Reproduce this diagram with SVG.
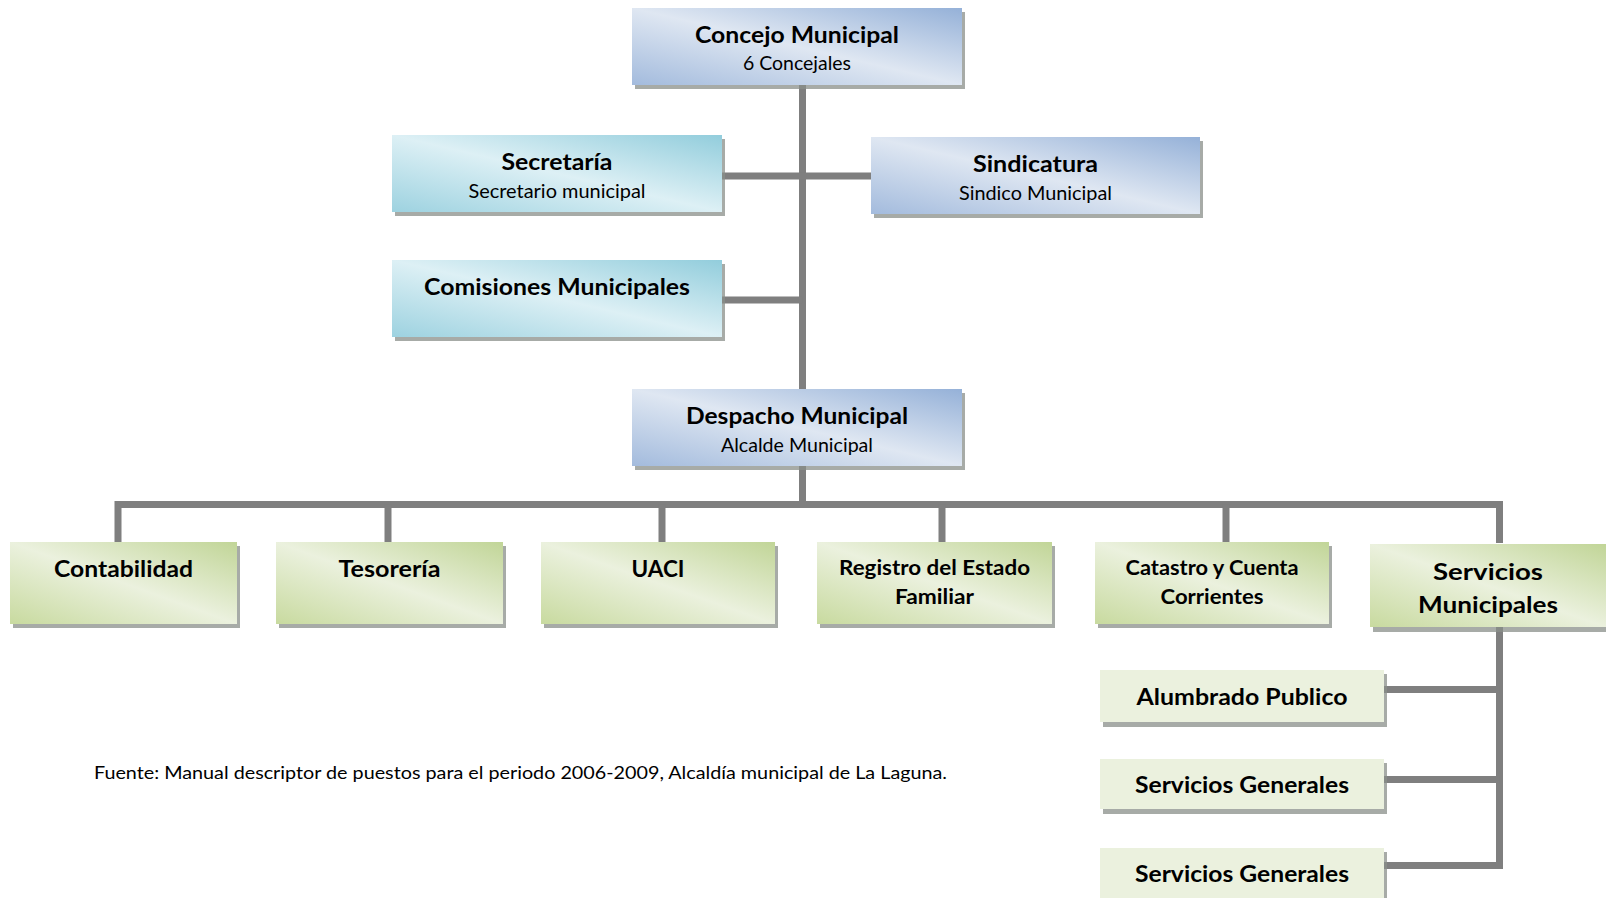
<svg xmlns="http://www.w3.org/2000/svg" width="1606" height="898" viewBox="0 0 1606 898">
<defs>
<linearGradient id="gBlue" x1="0" y1="1" x2="1" y2="0">
<stop offset="0" stop-color="#a3bbdd"/>
<stop offset="0.5" stop-color="#dfe7f2"/>
<stop offset="1" stop-color="#95b1d8"/>
</linearGradient>
<linearGradient id="gCyan" x1="0" y1="1" x2="1" y2="0">
<stop offset="0" stop-color="#9dd2e0"/>
<stop offset="0.5" stop-color="#ddf0f5"/>
<stop offset="1" stop-color="#92cddc"/>
</linearGradient>
<linearGradient id="gGreen" x1="0" y1="1" x2="1" y2="0">
<stop offset="0" stop-color="#c8da9f"/>
<stop offset="0.5" stop-color="#ebf1de"/>
<stop offset="1" stop-color="#c1d597"/>
</linearGradient>
<style>
.sh{fill:#8a8f8a;opacity:0.75}
.blue{fill:url(#gBlue)}
.cyan{fill:url(#gCyan)}
.green{fill:url(#gGreen)}
.flat{fill:#ebf1de}
.t{font-family:Lato,"Liberation Sans",sans-serif;font-weight:bold;font-size:23px;fill:#000;text-anchor:middle}
.t2{font-family:Lato,"Liberation Sans",sans-serif;font-weight:bold;font-size:21px;fill:#000;text-anchor:middle}
.s{font-family:Lato,"Liberation Sans",sans-serif;font-size:19px;fill:#000;text-anchor:middle}
.f{font-family:Lato,"Liberation Sans",sans-serif;font-size:18px;fill:#000}
.c{fill:none;stroke:#7f7f7f;stroke-width:7;stroke-linejoin:miter;stroke-linecap:butt}
</style>
</defs>
<rect width="1606" height="898" fill="#ffffff"/>
<g id="connectors">
<path class="c" d="M802.5,85 V389"/>
<path class="c" d="M722,176 H871"/>
<path class="c" d="M722,300 H802.5"/>
<path class="c" d="M802.5,465 V504.5"/>
<path class="c" d="M118,542 V504.5 H1499.5 V543"/>
<path class="c" d="M388,504.5 V542"/>
<path class="c" d="M662,504.5 V542"/>
<path class="c" d="M942,504.5 V542"/>
<path class="c" d="M1226,504.5 V542"/>
<path class="c" d="M1499.5,627 V865.5 H1384"/>
<path class="c" d="M1384,689.5 H1499.5"/>
<path class="c" d="M1384,779.5 H1499.5"/>
</g>
<g id="concejo">
<rect class="sh" x="635" y="12" width="330" height="77"/>
<rect class="blue" x="632" y="8" width="330" height="77"/>
<text class="t" x="797" y="43" textLength="204" lengthAdjust="spacingAndGlyphs">Concejo Municipal</text>
<text class="s" x="797" y="70" textLength="108" lengthAdjust="spacingAndGlyphs">6 Concejales</text>
</g>
<g id="secretaria">
<rect class="sh" x="395" y="139" width="330" height="77"/>
<rect class="cyan" x="392" y="135" width="330" height="77"/>
<text class="t" x="557" y="170" textLength="111" lengthAdjust="spacingAndGlyphs">Secretaría</text>
<text class="s" x="557" y="198" textLength="177" lengthAdjust="spacingAndGlyphs">Secretario municipal</text>
</g>
<g id="sindicatura">
<rect class="sh" x="874" y="141" width="329" height="77"/>
<rect class="blue" x="871" y="137" width="329" height="77"/>
<text class="t" x="1035.5" y="172" textLength="125" lengthAdjust="spacingAndGlyphs">Sindicatura</text>
<text class="s" x="1035.5" y="200" textLength="153" lengthAdjust="spacingAndGlyphs">Sindico Municipal</text>
</g>
<g id="comisiones">
<rect class="sh" x="395" y="264" width="330" height="77"/>
<rect class="cyan" x="392" y="260" width="330" height="77"/>
<text class="t" x="557" y="295" textLength="266" lengthAdjust="spacingAndGlyphs">Comisiones Municipales</text>
</g>
<g id="despacho">
<rect class="sh" x="635" y="393" width="330" height="77"/>
<rect class="blue" x="632" y="389" width="330" height="77"/>
<text class="t" x="797" y="424" textLength="222" lengthAdjust="spacingAndGlyphs">Despacho Municipal</text>
<text class="s" x="797" y="452" textLength="152" lengthAdjust="spacingAndGlyphs">Alcalde Municipal</text>
</g>
<g id="contabilidad">
<rect class="sh" x="13" y="546" width="227" height="82"/>
<rect class="green" x="10" y="542" width="227" height="82"/>
<text class="t" x="123.5" y="577" textLength="139" lengthAdjust="spacingAndGlyphs">Contabilidad</text>
</g>
<g id="tesoreria">
<rect class="sh" x="279" y="546" width="227" height="82"/>
<rect class="green" x="276" y="542" width="227" height="82"/>
<text class="t" x="389.5" y="577" textLength="102" lengthAdjust="spacingAndGlyphs">Tesorería</text>
</g>
<g id="uaci">
<rect class="sh" x="544" y="546" width="234" height="82"/>
<rect class="green" x="541" y="542" width="234" height="82"/>
<text class="t" x="658" y="577" textLength="53" lengthAdjust="spacingAndGlyphs">UACI</text>
</g>
<g id="registro">
<rect class="sh" x="820" y="546" width="235" height="82"/>
<rect class="green" x="817" y="542" width="235" height="82"/>
<text class="t2" x="934.5" y="575" textLength="191" lengthAdjust="spacingAndGlyphs">Registro del Estado</text>
<text class="t2" x="934.5" y="604" textLength="79" lengthAdjust="spacingAndGlyphs">Familiar</text>
</g>
<g id="catastro">
<rect class="sh" x="1098" y="546" width="234" height="82"/>
<rect class="green" x="1095" y="542" width="234" height="82"/>
<text class="t2" x="1212" y="575" textLength="173" lengthAdjust="spacingAndGlyphs">Catastro y Cuenta</text>
<text class="t2" x="1212" y="604" textLength="103" lengthAdjust="spacingAndGlyphs">Corrientes</text>
</g>
<g id="servicios-municipales">
<rect class="sh" x="1373" y="548" width="236" height="84"/>
<rect class="green" x="1370" y="544" width="236" height="83"/>
<text class="t" x="1488" y="580" textLength="110" lengthAdjust="spacingAndGlyphs">Servicios</text>
<text class="t" x="1488" y="613" textLength="140" lengthAdjust="spacingAndGlyphs">Municipales</text>
</g>
<g id="alumbrado">
<rect class="sh" x="1103" y="674" width="284" height="53"/>
<rect class="flat" x="1100" y="670" width="284" height="52"/>
<text class="t" x="1242" y="705" textLength="211" lengthAdjust="spacingAndGlyphs">Alumbrado Publico</text>
</g>
<g id="servicios-generales-1">
<rect class="sh" x="1103" y="763" width="284" height="51"/>
<rect class="flat" x="1100" y="759" width="284" height="50"/>
<text class="t" x="1242" y="793" textLength="214" lengthAdjust="spacingAndGlyphs">Servicios Generales</text>
</g>
<g id="servicios-generales-2">
<rect class="sh" x="1103" y="852" width="284" height="50"/>
<rect class="flat" x="1100" y="848" width="284" height="50"/>
<text class="t" x="1242" y="882" textLength="214" lengthAdjust="spacingAndGlyphs">Servicios Generales</text>
</g>
<g id="fuente">
<text class="f" x="94" y="779" textLength="853" lengthAdjust="spacingAndGlyphs">Fuente: Manual descriptor de puestos para el periodo 2006-2009, Alcaldía municipal de La Laguna.</text>
</g>
</svg>
